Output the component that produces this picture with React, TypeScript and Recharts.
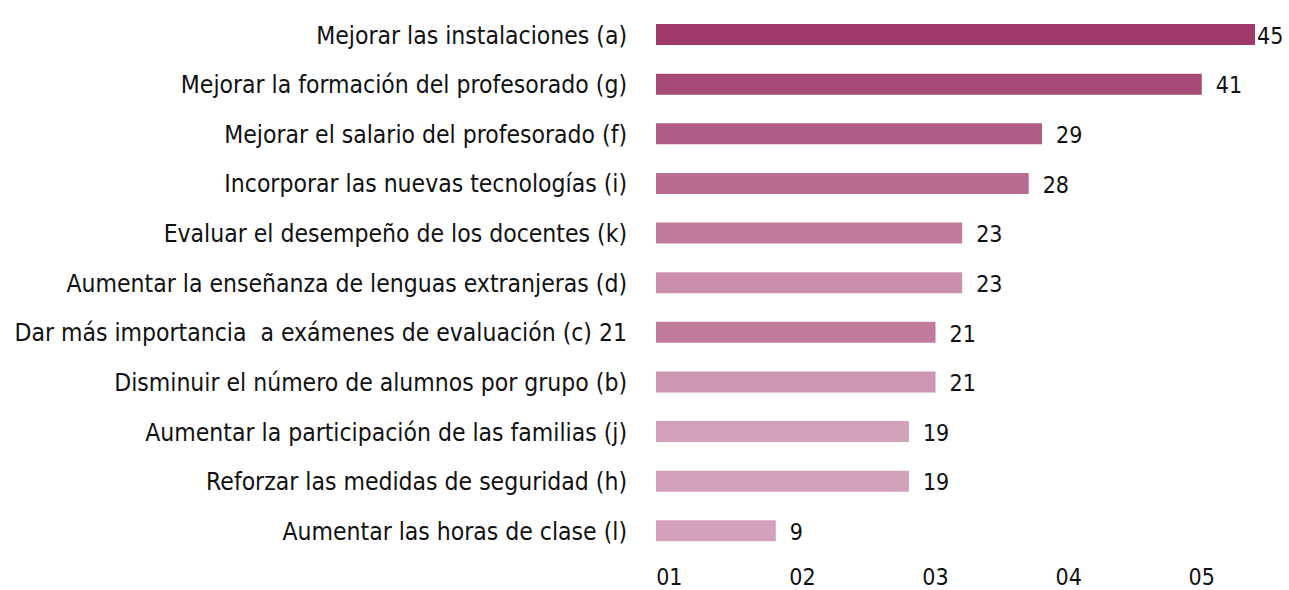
import { BarChart, Bar, XAxis, YAxis, Cell, LabelList } from "recharts";

const categories = [
  "Mejorar las instalaciones (a)",
  "Mejorar la formación del profesorado (g)",
  "Mejorar el salario del profesorado (f)",
  "Incorporar las nuevas tecnologías (i)",
  "Evaluar el desempeño de los docentes (k)",
  "Aumentar la enseñanza de lenguas extranjeras (d)",
  "Dar más importancia\u00a0 a exámenes de evaluación (c) 21",
  "Disminuir el número de alumnos por grupo (b)",
  "Aumentar la participación de las familias (j)",
  "Reforzar las medidas de seguridad (h)",
  "Aumentar las horas de clase (l)",
];

const values = [45, 41, 29, 28, 23, 23, 21, 21, 19, 19, 9];

const barColors = [
  "#A0386A",
  "#A64B76",
  "#AF5D84",
  "#B86C8F",
  "#C27C9B",
  "#CB90AE",
  "#C27C9B",
  "#CD96B2",
  "#D3A1B9",
  "#D3A1B9",
  "#D3A2BA",
];

const xTicks = [1, 11, 21, 31, 41];
const xTickLabels = ["01", "02", "03", "04", "05"];

const FONT = "'DejaVu Sans Condensed', 'DejaVu Sans', sans-serif";
const W = 1289;
const H = 590;

const data = categories.map((name, i) => ({ name, value: values[i] }));

function ValueLabel(props: any) {
  const { x, y, width, height, value } = props;
  // keep the longest label inside the chart edge
  const lx = Math.min(x + width + 14, W - 32);
  return (
    <text x={lx} y={y + height / 2} dy="0.4em" fontSize={23} fontFamily={FONT} fill="#111">
      {value}
    </text>
  );
}

export default function App() {
  return (
    <div style={{ position: "absolute", left: 0, top: 0, background: "#fff" }}>
      <BarChart
        width={W}
        height={H}
        data={data}
        layout="vertical"
        margin={{ top: 10, right: 34, bottom: 0, left: 0 }}
        barSize={21}
      >
        <XAxis
          type="number"
          domain={[0, 45]}
          ticks={xTicks}
          tickFormatter={(v: number) => xTickLabels[xTicks.indexOf(v)]}
          axisLine={false}
          tickLine={false}
          tickSize={0}
          tickMargin={13}
          height={34}
          tick={{ fontSize: 23, fontFamily: FONT, fill: "#111" }}
          interval={0}
        />
        <YAxis
          type="category"
          dataKey="name"
          width={656}
          axisLine={false}
          tickLine={false}
          tickSize={0}
          tickMargin={29}
          interval={0}
          tick={{ fontSize: 24.5, fontFamily: FONT, fill: "#111" }}
        />
        <Bar dataKey="value" isAnimationActive={false}>
          {data.map((d, i) => (
            <Cell key={d.name} fill={barColors[i]} />
          ))}
          <LabelList dataKey="value" content={<ValueLabel />} />
        </Bar>
      </BarChart>
    </div>
  );
}
